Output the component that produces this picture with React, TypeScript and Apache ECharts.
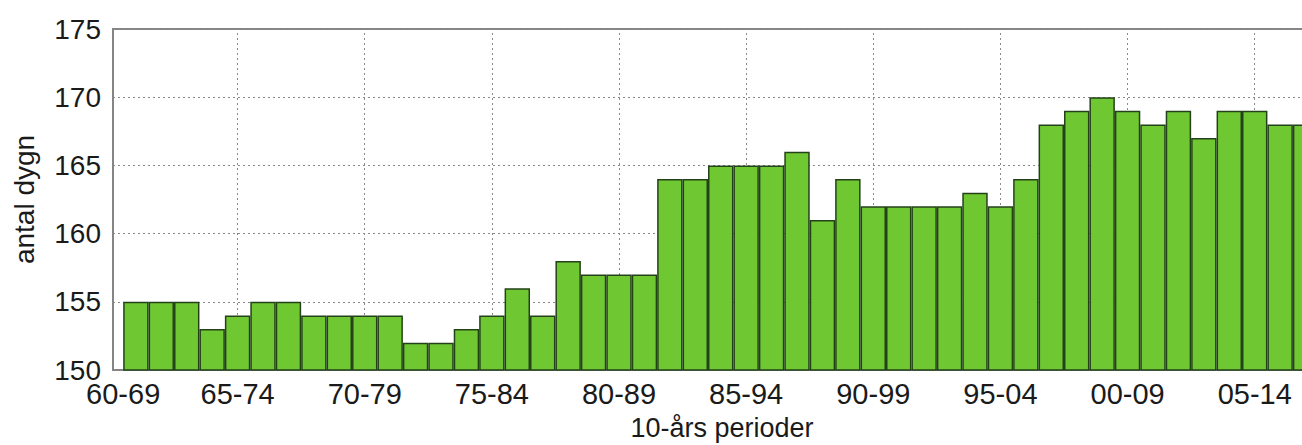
import React, { useEffect, useRef } from "react";
import * as echarts from "echarts";

// Number of days (antal dygn) per rolling 10-year period
const values: number[] = [
  155, 155, 155, 153, 154, 155, 155, 154, 154, 154,
  154, 152, 152, 153, 154, 156, 154, 158, 157, 157,
  157, 164, 164, 165, 165, 165, 166, 161, 164, 162,
  162, 162, 162, 163, 162, 164, 168, 169, 170, 169,
  168, 169, 167, 169, 169, 168, 168,
];

// x-axis tick labels and the x values where they sit
const tickLabels: string[] = [
  "60-69", "65-74", "70-79", "75-84", "80-89",
  "85-94", "90-99", "95-04", "00-09", "05-14",
];
const tickValues: number[] = [0.5, 5, 10, 15, 20, 25, 30, 35, 40, 45];
const gridXValues: number[] = [5, 10, 15, 20, 25, 30, 35, 40, 45];

const yMin = 150;
const yMax = 175;
const yStep = 5;
const xMin = 0.1;
const xMax = 48;

const FONT = "'Liberation Sans', Arial, Helvetica, sans-serif";
const TXT = "#1a1a1a";

export default function App() {
  const ref = useRef<HTMLDivElement>(null);

  useEffect(() => {
    if (!ref.current) return;
    const chart = echarts.init(ref.current, undefined, { renderer: "svg" });
    const barData = values.map((v, i) => [i + 1, v]);

    chart.setOption({
      animation: false,
      backgroundColor: "#ffffff",
      textStyle: { fontFamily: FONT },
      grid: {
        left: 113,
        top: 29,
        height: 341,
        width: 1218,
        outerBoundsMode: "none",
        containLabel: false,
        show: true,
        borderColor: "#858585",
        borderWidth: 2,
        backgroundColor: "transparent",
      },
      xAxis: {
        type: "value",
        min: xMin,
        max: xMax,
        name: "10-års perioder",
        nameLocation: "middle",
        nameGap: 43,
        nameTextStyle: {
          fontSize: 27,
          lineHeight: 30,
          color: TXT,
          fontFamily: FONT,
        },
        axisLine: { show: true, lineStyle: { color: "#858585", width: 2 } },
        axisTick: { show: false },
        splitLine: { show: false },
        axisLabel: {
          customValues: tickValues,
          formatter: (v: number) => {
            const idx = tickValues.findIndex((t) => Math.abs(t - v) < 1e-6);
            return idx >= 0 ? tickLabels[idx] : "";
          },
          fontSize: 29,
          color: TXT,
          margin: 9,
          fontFamily: FONT,
        },
      },
      yAxis: {
        type: "value",
        min: yMin,
        max: yMax,
        interval: yStep,
        name: "antal dygn",
        nameLocation: "middle",
        nameRotate: 90,
        nameGap: 75,
        nameTextStyle: { fontSize: 28, color: TXT, fontFamily: FONT },
        axisLine: { show: true, lineStyle: { color: "#858585", width: 2 } },
        axisTick: { show: false },
        axisLabel: {
          fontSize: 28,
          color: TXT,
          margin: 12,
          fontFamily: FONT,
        },
        splitLine: {
          show: true,
          lineStyle: { color: "#8a8a8a", type: [2, 3], width: 1 },
        },
      },
      series: [
        {
          type: "bar",
          data: barData,
          barWidth: "100%",
          startValue: yMin,
          clip: true,
          z: 2,
          itemStyle: {
            color: "#6fc832",
            borderColor: "#24421a",
            borderWidth: 1.5,
          },
          markLine: {
            silent: true,
            z: 1,
            symbol: ["none", "none"],
            label: { show: false },
            lineStyle: { color: "#8a8a8a", type: [2, 3], width: 1 },
            data: gridXValues.map((x) => ({ xAxis: x })),
          },
        },
      ],
    });

    return () => {
      chart.dispose();
    };
  }, []);

  return (
    <div
      ref={ref}
      style={{
        position: "fixed",
        left: 0,
        top: 0,
        width: 1302,
        height: 445,
        overflow: "hidden",
        background: "#fff",
      }}
    />
  );
}
